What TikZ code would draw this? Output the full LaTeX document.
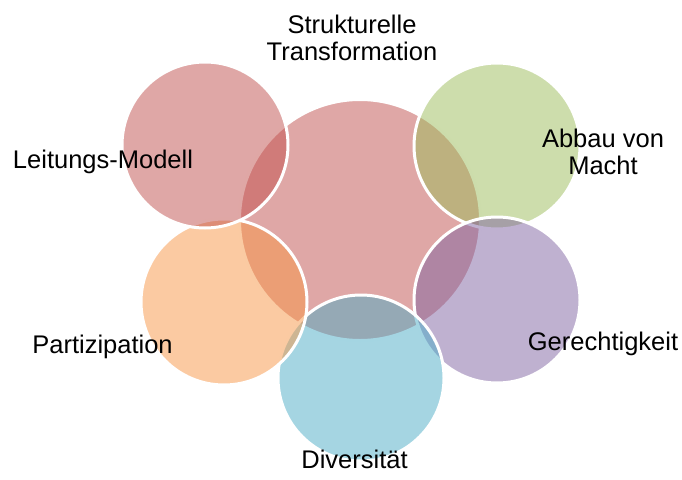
\documentclass[tikz,border=0pt]{standalone}
\usepackage{fontspec}
\setmainfont{Liberation Sans}
\usetikzlibrary{positioning}

\definecolor{bubblered}{HTML}{C0504D}
\definecolor{bubblegreen}{HTML}{9BBB59}
\definecolor{bubblepurple}{HTML}{8064A2}
\definecolor{bubbleblue}{HTML}{4BACC6}
\definecolor{bubbleorange}{HTML}{F79646}

\tikzset{
  bubble/.style={circle, draw=white, line width=3pt, fill=#1, fill opacity=0.5,
    inner sep=0pt, minimum size=166pt},
  hub/.style={bubble=#1, minimum size=241pt},
  caption/.style={font=\fontsize{25.5}{27}\selectfont, align=center, anchor=base,
    inner sep=0pt, text=black}
}

\begin{document}
\begin{tikzpicture}[x=1pt, y=-1pt]
    \useasboundingbox (0,0) rectangle (682,479);

    % the big circle in the middle, then the five around it
    \node[hub=bubblered] (transform) at (360,220) {};
    \node[bubble=bubblegreen] (macht) at (497,146) {};
    \node[bubble=bubblepurple] (gerecht) at (497,300) {};
    \node[bubble=bubbleblue] (divers) at (361,378) {};
    \node[bubble=bubbleorange] (partizip) at (224,302) {};
    \node[bubble=bubblered] (leitung) at (205,145) {};

    % labels (base = baseline of the last line)
    \node[caption] (transformtext) at (352,60) {Strukturelle\\Transformation};
    \node[caption] (machttext) at (603,174) {Abbau von\\Macht};
    \node[caption] (leitungtext) at (103,168) {Leitungs-Modell};
    \node[caption] (partiziptext) at (102.5,353) {Partizipation};
    \node[caption] (gerechttext) at (603,350) {Gerechtigkeit};
    \node[caption] (diverstext) at (354.5,468) {Diversität};
\end{tikzpicture}
\end{document}
